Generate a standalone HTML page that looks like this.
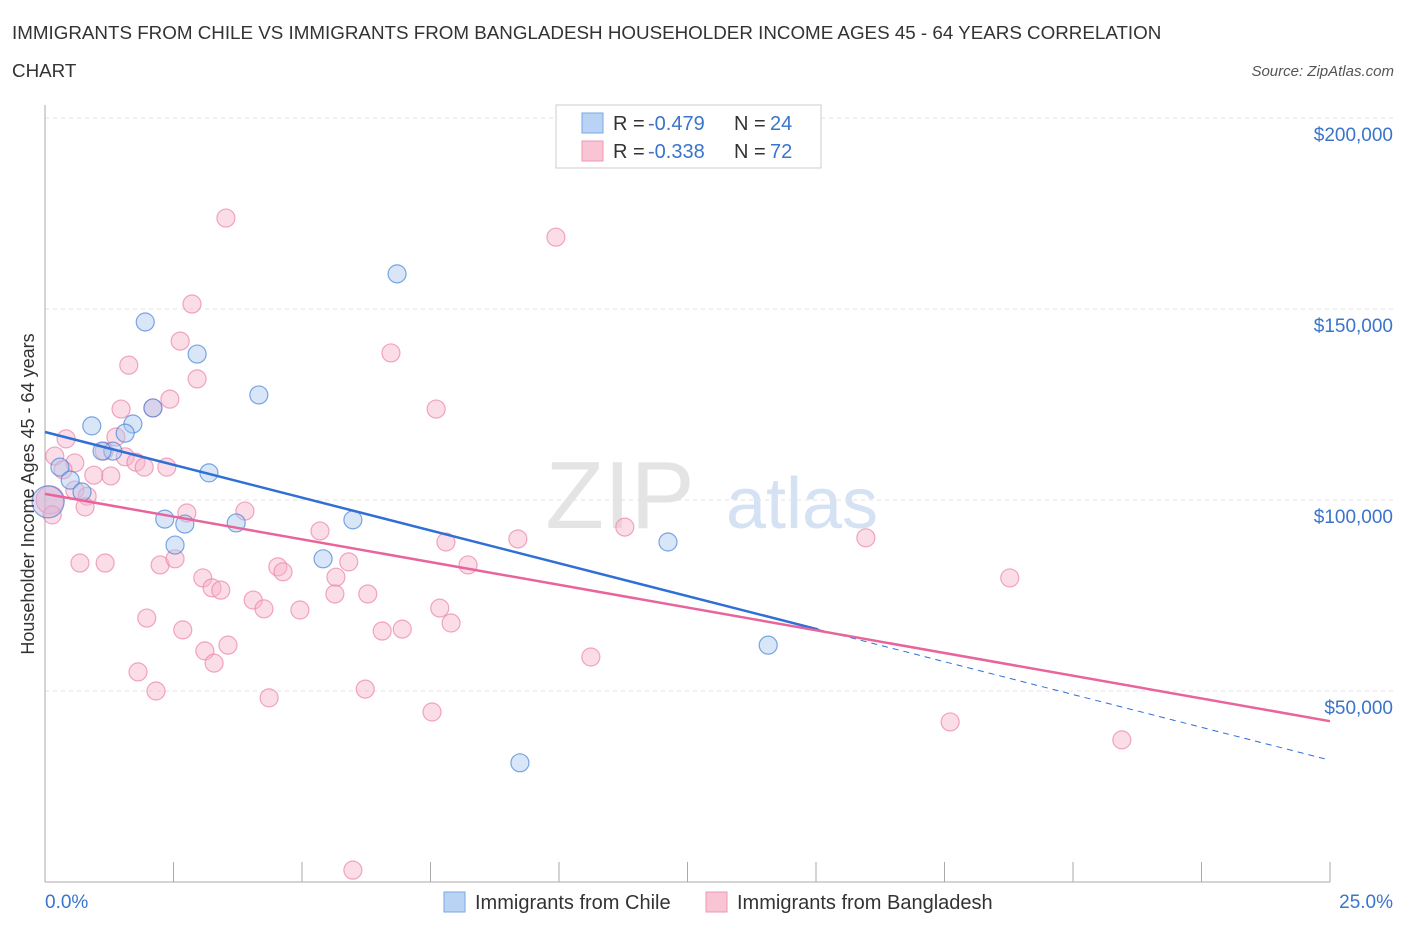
<!DOCTYPE html>
<html><head><meta charset="utf-8"><style>
body{margin:0;background:#fff;font-family:"Liberation Sans",sans-serif;}
svg text{font-family:"Liberation Sans",sans-serif;}
</style></head><body>
<svg id="chart" width="1406" height="930">
<text x="12" y="39" font-size="18.8" fill="#333">IMMIGRANTS FROM CHILE VS IMMIGRANTS FROM BANGLADESH HOUSEHOLDER INCOME AGES 45 - 64 YEARS CORRELATION</text>
<text x="12" y="77" font-size="18.8" fill="#333">CHART</text>
<text x="1394" y="76" font-size="15" font-style="italic" fill="#555" text-anchor="end">Source: ZipAtlas.com</text>
<text x="620" y="528" font-size="96" font-family="Liberation Serif" fill="#e4e4e4" text-anchor="middle">ZIP</text>
<text x="802" y="528" font-size="72" fill="#d4e2f4" text-anchor="middle">atlas</text>
<g id="grid"></g>
<g id="axes"></g>
<g id="marks"></g>
<text transform="translate(34,494) rotate(-90)" font-size="18" fill="#333" text-anchor="middle">Householder Income Ages 45 - 64 years</text>
<g>
<rect x="556" y="105" width="265" height="63" fill="#fff" stroke="#ccc"/>
<rect x="582" y="113" width="21" height="20" fill="#b9d3f5" stroke="#7aa7e2"/>
<rect x="582" y="141" width="21" height="20" fill="#f9c4d4" stroke="#ee98b4"/>
<text y="130" font-size="20"><tspan x="613" fill="#333">R = </tspan><tspan x="648" fill="#3a74cc">-0.479</tspan><tspan x="734" fill="#333">N = </tspan><tspan x="770" fill="#3a74cc">24</tspan></text>
<text y="158" font-size="20"><tspan x="613" fill="#333">R = </tspan><tspan x="648" fill="#3a74cc">-0.338</tspan><tspan x="734" fill="#333">N = </tspan><tspan x="770" fill="#3a74cc">72</tspan></text>
</g>
<g>
<rect x="444" y="892" width="21" height="20" fill="#b9d3f5" stroke="#7aa7e2"/>
<text x="475" y="909" font-size="20" fill="#333">Immigrants from Chile</text>
<rect x="706" y="892" width="21" height="20" fill="#f9c4d4" stroke="#ee98b4"/>
<text x="737" y="909" font-size="20" fill="#333">Immigrants from Bangladesh</text>
</g>
</svg>
<script>
const chileX=[1.95,2.96,4.16,6.85,0.91,1.71,1.56,2.10,1.32,0.29,0.49,0.72,0.06,3.19,2.33,2.72,2.53,3.72,5.99,5.41,12.12,14.07,9.24,1.11];
const chileY=[146.6,138.2,127.5,159.2,119.4,119.9,117.5,124.1,112.8,108.6,105.2,102.1,99.5,107.1,95.0,93.7,88.2,94.0,94.8,84.6,89.0,62.0,31.2,112.8];
const bangX=[3.52,9.94,2.86,2.63,1.63,2.96,6.73,2.43,1.48,2.10,7.61,0.41,1.38,1.15,1.56,1.77,1.93,2.37,0.19,0.58,0.35,0.95,1.28,0.58,0.82,0.78,0.10,0.14,3.89,2.76,5.35,11.28,7.80,9.20,15.97,0.68,1.17,2.24,2.53,4.53,4.63,5.91,8.23,3.07,3.25,3.42,5.66,18.77,5.64,6.28,1.98,4.05,4.26,4.96,7.68,7.90,2.68,6.56,6.95,3.56,3.11,3.29,10.62,1.81,2.16,6.23,4.36,7.53,17.61,20.95,5.99];
const bangY=[173.8,168.8,151.3,141.6,135.3,131.7,138.5,126.4,123.8,124.1,123.8,116.0,116.5,112.8,111.3,109.9,108.6,108.6,111.5,109.7,107.9,106.5,106.3,102.6,101.0,98.2,100.0,96.1,97.1,96.6,91.9,92.9,89.0,89.8,90.1,83.5,83.5,83.0,84.6,82.5,81.2,83.8,83.0,79.6,77.0,76.4,79.8,79.6,75.4,75.4,69.1,73.8,71.5,71.2,71.7,67.8,66.0,65.7,66.2,62.0,60.5,57.3,58.9,55.0,50.0,50.5,48.2,44.5,41.9,37.2,3.1];
const yTicks=[50,100,150,200];
const yTickLabels=["$50,000","$100,000","$150,000","$200,000"];
const chileTrend=[117.8,31.9];
const chileSolidEnd=15.04;
const bangTrend=[101.6,42.1];
const NS='http://www.w3.org/2000/svg';
const sx=v=>45+v/25*1285;
const sy=v=>882-v/50*191;
function mk(tag,attrs,parent){const e=document.createElementNS(NS,tag);for(const k in attrs)e.setAttribute(k,attrs[k]);parent.appendChild(e);return e;}
const grid=document.getElementById('grid'),axes=document.getElementById('axes'),marks=document.getElementById('marks');
yTicks.forEach((t,i)=>{
 const l=mk('line',{x1:45,x2:1394,y1:sy(t),y2:sy(t),stroke:'#e2e2e2','stroke-dasharray':'4,4'},grid);
 
 
 const tx=mk('text',{x:1393,y:sy(t)+23,'font-size':19,fill:'#3a74cc','text-anchor':'end'},axes);
 tx.textContent=yTickLabels[i];
 
 
});
const ax=mk('line',{x1:45,x2:45,y1:105,y2:882,stroke:'#aaa'},axes);


const bx=mk('line',{x1:45,x2:1330,y1:882,y2:882,stroke:'#aaa'},axes);


for(let i=0;i<=10;i++){const x=45+i*128.5;const tk=mk('line',{x1:x,x2:x,y1:862,y2:882,stroke:'#aaa'},axes);
 
 }
const xl=mk('text',{x:45,y:908,'font-size':19,fill:'#3a74cc'},axes);xl.textContent='0.0%';


const xr=mk('text',{x:1393,y:908,'font-size':19,fill:'#3a74cc','text-anchor':'end'},axes);xr.textContent='25.0%';


bangX.forEach((x,i)=>{const big=x<0.2&&bangY[i]>99&&bangY[i]<101;
 const c=mk('circle',{cx:sx(x),cy:sy(bangY[i]),r:big?14:9,fill:'rgba(247,180,202,0.45)',stroke:'rgba(236,130,165,0.7)','stroke-width':1.2},marks);
 
 });
chileX.forEach((x,i)=>{const big=x<0.1;
 const c=mk('circle',{cx:sx(x),cy:sy(chileY[i]),r:big?16:9,fill:big?'rgba(200,180,220,0.5)':'rgba(170,200,240,0.45)',stroke:'rgba(70,130,215,0.7)','stroke-width':1.2},marks);
 
 });
const cy=x=>chileTrend[0]+(chileTrend[1]-chileTrend[0])*x/25;
const by=x=>bangTrend[0]+(bangTrend[1]-bangTrend[0])*x/25;
const l1=mk('line',{x1:sx(0),y1:sy(cy(0)),x2:sx(chileSolidEnd),y2:sy(cy(chileSolidEnd)),stroke:'#2f6fd6','stroke-width':2.5},marks);


const l2=mk('line',{x1:sx(chileSolidEnd),y1:sy(cy(chileSolidEnd)),x2:sx(24.95),y2:sy(cy(24.95)),stroke:'#2f6fd6','stroke-width':1,'stroke-dasharray':'6,5'},marks);


const l3=mk('line',{x1:sx(0),y1:sy(by(0)),x2:sx(25),y2:sy(by(25)),stroke:'#e8649a','stroke-width':2.5},marks);


</script>
</body></html>
